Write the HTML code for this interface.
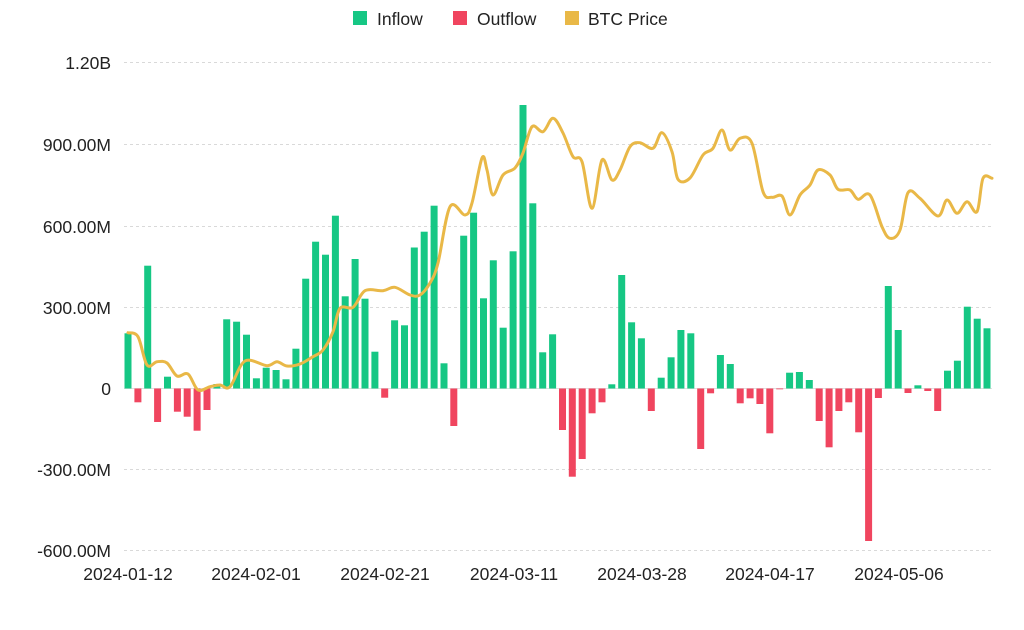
<!DOCTYPE html>
<html><head><meta charset="utf-8"><style>
html,body{margin:0;padding:0;background:#fff;}
svg{display:block;font-family:"Liberation Sans",sans-serif;}
</style></head><body>
<svg id="c" width="1024" height="630" viewBox="0 0 1024 630" xmlns="http://www.w3.org/2000/svg">
<rect width="1024" height="630" fill="#fff"/>
<g stroke="#d9d9d9" stroke-width="1" stroke-dasharray="3,3">
<line x1="124" x2="992" y1="62.5" y2="62.5"/>
<line x1="124" x2="992" y1="144.5" y2="144.5"/>
<line x1="124" x2="992" y1="226.5" y2="226.5"/>
<line x1="124" x2="992" y1="307.5" y2="307.5"/>
<line x1="124" x2="992" y1="469.5" y2="469.5"/>
<line x1="124" x2="992" y1="550.5" y2="550.5"/>
</g>
<line x1="124" x2="992" y1="388.5" y2="388.5" stroke="#e0e0e0"/>
<g font-size="17.5" fill="#222" text-anchor="end">
<text x="111" y="69">1.20B</text>
<text x="111" y="151">900.00M</text>
<text x="111" y="233">600.00M</text>
<text x="111" y="314">300.00M</text>
<text x="111" y="395">0</text>
<text x="111" y="476">-300.00M</text>
<text x="111" y="557">-600.00M</text>
</g>
<g font-size="17.5" fill="#222" text-anchor="middle">
<text x="128" y="580">2024-01-12</text>
<text x="256" y="580">2024-02-01</text>
<text x="385" y="580">2024-02-21</text>
<text x="514" y="580">2024-03-11</text>
<text x="642" y="580">2024-03-28</text>
<text x="770" y="580">2024-04-17</text>
<text x="899" y="580">2024-05-06</text>
</g>
<g font-size="17.5" fill="#222">
<rect x="353" y="11" width="14" height="14" fill="#16c784"/><text x="377" y="25">Inflow</text>
<rect x="453" y="11" width="14" height="14" fill="#f0455f"/><text x="477" y="25">Outflow</text>
<rect x="565" y="11" width="14" height="14" fill="#e9b847"/><text x="588" y="25">BTC Price</text>
</g>
<g id="bars"></g>
<path id="line" fill="none" stroke="#e9b847" stroke-width="3" stroke-linejoin="round" stroke-linecap="round"/>
</svg>
<script>
var tops=[333.3,402.3,265.7,422,376.7,411.7,416.7,430.7,410,384,319.3,321.7,334.7,378.3,367.7,370,379.3,348.7,278.7,241.7,254.7,215.7,296.3,259,298.7,351.7,397.7,320.3,325.3,247.5,
231.7,205.7,363.3,426,235.7,212.7,298.3,260.3,327.7,251.3,105,203.3,352.3,334.3,430,476.7,459,413.3,402.3,384.3,275,322.3,338.3,411,377.7,357.3,330,333.3,
449,393.3,355,364,403.3,398.3,404,433.3,389.3,372.7,372,380,421,447.3,411,402.3,432.3,541,398,286,330,393,385.3,391,411,370.7,360.7,306.7,318.7,328.3];
var z=388.5,g=document.getElementById('bars'),s='';
for(var i=0;i<tops.length;i++){var x=128+i*9.874-3.5,t=tops[i];
 if(t<z){s+='<rect x="'+x.toFixed(1)+'" y="'+t+'" width="7" height="'+(z-t).toFixed(1)+'" fill="#16c784"/>';}
 else{s+='<rect x="'+x.toFixed(1)+'" y="'+z+'" width="7" height="'+(t-z).toFixed(1)+'" fill="#f0455f"/>';}}
g.innerHTML=s;
var p=[[128,332.7],[138,336.7],[147,365],[157,361.7],[167,363],[177,376],[188,374],[198,390],[210,386.7],[220,385],[230,386.7],[245,361],[267,365.7],[277,361.7],[287,366],[300,364],[313,356.7],[323,350],[333,331.7],[340,308.3],[353,307.3],[365,290.7],[383,290.7],[395,287.3],[410,295],[420,295],[430,283],[438,263],[450,206.7],[465,215],[472,203],[482,158],[487,170],[493,195],[503,175],[515,168],[523,153],[532,126.7],[543,131.7],[553,118.3],[563,133],[573,156.7],[582,161.7],[592,208.3],[602,160],[612,180],[620,170],[630,146.7],[640,142.7],[653,148.3],[662,132.7],[672,151.7],[678,179.3],[690,178],[703,155],[713,148.3],[722,130],[730,150],[740,138.3],[752,143.3],[763,191.7],[772,197.3],[782,196],[790,215],[800,195],[810,185],[818,170],[830,175],[838,189.3],[850,190],[858,199.3],[870,195],[882,226.7],[890,238.3],[900,230],[908,192.7],[920,198.3],[938,216],[947,200],[957,213.3],[967,201.7],[977,211.7],[983,178.3],[992,178.3]];
var d='M'+p[0][0]+','+p[0][1];
for(var i=0;i<p.length-1;i++){var p0=p[i>0?i-1:i],p1=p[i],p2=p[i+1],p3=p[i+2<p.length?i+2:i+1];
 var c1x=p1[0]+(p2[0]-p0[0])/6,c1y=p1[1]+(p2[1]-p0[1])/6,c2x=p2[0]-(p3[0]-p1[0])/6,c2y=p2[1]-(p3[1]-p1[1])/6;
 d+=' C'+c1x.toFixed(1)+','+c1y.toFixed(1)+' '+c2x.toFixed(1)+','+c2y.toFixed(1)+' '+p2[0]+','+p2[1];}
document.getElementById('line').setAttribute('d',d);
</script>
</body></html>
